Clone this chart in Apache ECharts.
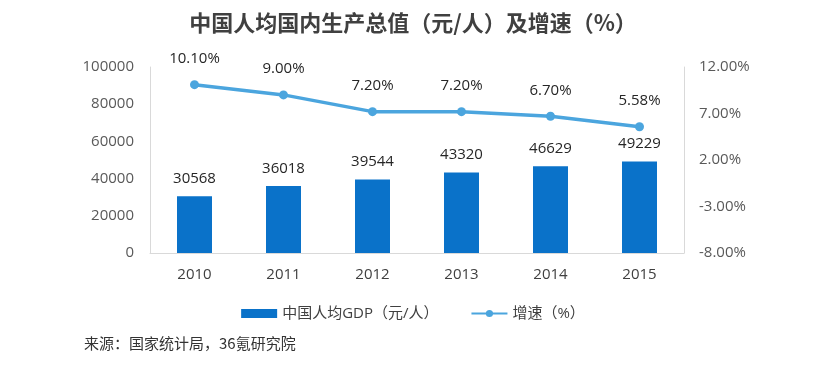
<!DOCTYPE html>
<html><head><meta charset="utf-8">
<script src="https://cdn.jsdelivr.net/npm/echarts@6/dist/echarts.min.js"></script>
<style>html,body{margin:0;padding:0;background:#fff}#c{width:826px;height:374px}</style>
</head><body><div id="c"></div>
<script>
const categories = ['2010','2011','2012','2013','2014','2015'];
const gdpValues = [30568, 36018, 39544, 43320, 46629, 49229];
const growthValues = [10.10, 9.00, 7.20, 7.20, 6.70, 5.58];
const leftTicks = [0, 20000, 40000, 60000, 80000, 100000];
const rightTicks = [-8, -3, 2, 7, 12];

const FONT = '"Open Sans","Noto Sans CJK SC",sans-serif';
const chart = echarts.init(document.getElementById('c'));
chart.setOption({
  backgroundColor: '#fff',
  textStyle: {fontFamily: FONT},
  title: {
    text: '中国人均国内生产总值（元/人）及增速（%）',
    left: 'center', top: 7,
    textStyle: {fontSize: 22, fontWeight: 'bold', color: '#404040', fontFamily: '"Noto Sans CJK SC",sans-serif'}
  },
  graphic: [{
    type: 'text', left: 84, top: 336,
    style: {text: '来源：国家统计局，36氪研究院', font: '15px "Noto Sans CJK SC",sans-serif', fill: '#333'}
  }],
  legend: {
    top: 301, left: 'center', itemGap: 32, itemWidth: 36, itemHeight: 9,
    textStyle: {fontSize: 15, color: '#404040', fontFamily: FONT},
    data: [
      {name: '中国人均GDP（元/人）', icon: 'rect'},
      {name: '增速（%）'}
    ]
  },
  grid: {left: 150, right: 142, top: 67, bottom: 121},
  xAxis: {
    type: 'category', data: categories,
    axisLine: {lineStyle: {color: '#d9d9d9'}},
    axisTick: {show: false},
    axisLabel: {fontSize: 15, color: '#404040', margin: 14}
  },
  yAxis: [{
    type: 'value', min: 0, max: 100000, interval: 20000,
    axisLine: {show: true, lineStyle: {color: '#d9d9d9'}},
    axisTick: {show: false},
    splitLine: {show: false},
    axisLabel: {fontSize: 15, color: '#595959', margin: 16, formatter: v => String(v)}
  }, {
    type: 'value', min: -8, max: 12, interval: 5,
    axisLine: {show: true, lineStyle: {color: '#d9d9d9'}},
    axisTick: {show: false},
    splitLine: {show: false},
    axisLabel: {fontSize: 15, color: '#595959', margin: 15, formatter: v => v.toFixed(2) + '%'}
  }],
  series: [{
    name: '中国人均GDP（元/人）', type: 'bar', data: gdpValues, barWidth: 35,
    itemStyle: {color: '#0A72C9'},
    label: {show: true, position: 'top', distance: 10, fontSize: 15, color: '#262626'}
  }, {
    name: '增速（%）', type: 'line', yAxisIndex: 1, data: growthValues,
    symbol: 'circle', symbolSize: 9,
    lineStyle: {color: '#4BA5DE', width: 3.5},
    itemStyle: {color: '#4BA5DE'},
    label: {show: true, position: 'top', distance: 14, fontSize: 15, color: '#262626',
      formatter: p => p.value.toFixed(2) + '%'}
  }]
});
</script></body></html>
